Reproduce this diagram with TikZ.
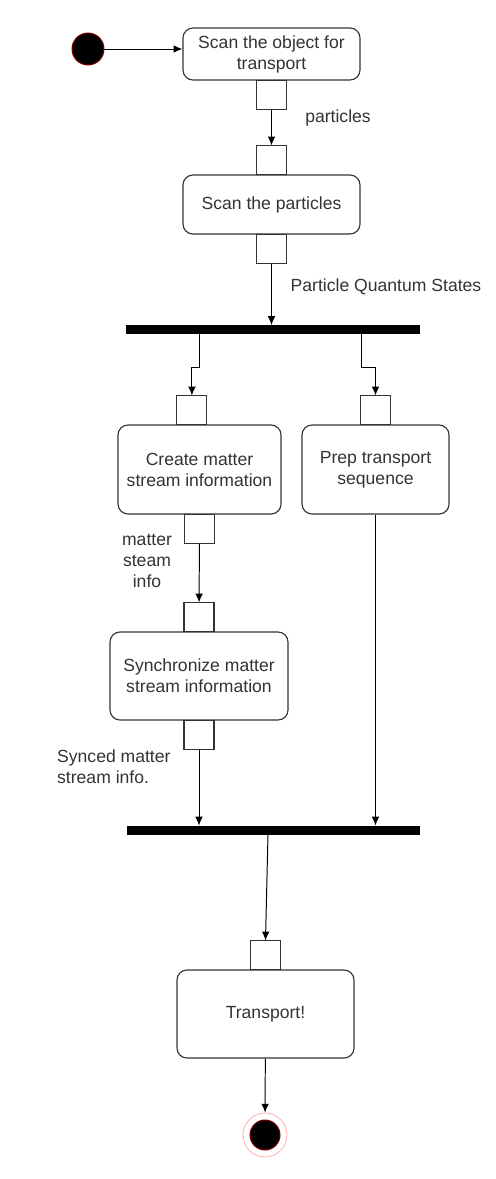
\documentclass[tikz,border=0pt]{standalone}
\usepackage{fontspec}
\setmainfont{Liberation Sans}
\usetikzlibrary{positioning}
\usetikzlibrary{arrows.meta}
\tikzset{>={Latex[width=1.9mm,length=2.2mm]}}
\tikzset{action/.style={draw=black!80, line width=0.8pt, rounded corners=2.5mm, align=center, fill=white, text=black!80, inner sep=2pt}}
\tikzset{pinbox/.style={draw=black!80, line width=0.8pt, minimum width=0.75cm, minimum height=0.725cm, inner sep=0pt, outer sep=0pt}}
\tikzset{bar/.style={fill=black, minimum height=0.225cm, inner sep=0pt, outer sep=0pt}}
\tikzset{lbl/.style={text=black!80, align=center}}

\begin{document}
\begin{tikzpicture}[x=0.025cm, y=-0.025cm, font=\fontsize{12.5}{15}\selectfont, line width=0.7pt]
\useasboundingbox (0,0) rectangle (495,1179);
\node (start) [circle, fill=black, draw=red!50!black, minimum size=0.8cm, inner sep=0pt] at (88,49) {};
\node (act1) [action, minimum width=4.425cm, minimum height=1.3cm] at (271.5,54) {Scan the object for\\transport};
\node (pin1b) [pinbox, below=0pt of act1] {};
\node (act2) [action, minimum width=4.425cm, minimum height=1.475cm] at (271.5,204.5) {Scan the particles};
\node (pin2a) [pinbox, above=0pt of act2] {};
\node (pin2b) [pinbox, below=0pt of act2] {};
\node (bar1) [bar, minimum width=7.35cm] at (273,329.5) {};
\node (act3) [action, minimum width=4.075cm, minimum height=2.225cm] at (199.5,469.5) {Create matter\\stream information};
\node (pin3a) [pinbox, above=0pt of act3, xshift=-0.19cm] {};
\node (pin3b) [pinbox, below=0pt of act3] {};
\node (act5) [action, minimum width=3.675cm, minimum height=2.225cm] at (375.5,469.5) {Prep transport\\sequence};
\node (pin5a) [pinbox, above=0pt of act5] {};
\node (act4) [action, minimum width=4.45cm, minimum height=2.2cm] at (199,676) {Synchronize matter\\stream information};
\node (pin4a) [pinbox, above=0pt of act4] {};
\node (pin4b) [pinbox, below=0pt of act4] {};
\node (bar2) [bar, minimum width=7.325cm] at (273.5,830) {};
\node (act6) [action, minimum width=4.425cm, minimum height=2.2cm] at (265.5,1014) {Transport!};
\node (pin6a) [pinbox, above=0pt of act6] {};
\node (end) [circle, draw=red!30, line width=0.6pt, minimum size=1.1cm, inner sep=0pt] at (265,1135) {};
\node (endin) [circle, fill=black, draw=red!50!black, minimum size=0.75cm, inner sep=0pt] at (end) {};

\node (l1) [lbl] at (338,118) {particles};
\node (l2) [lbl] at (386,287) {Particle Quantum States};
\node (l3) [lbl] at (147,561) {matter\\steam\\info};
\node (l4) [lbl, align=left, anchor=west] at (52,767) {Synced matter\\stream info.};

\coordinate (f2) at (361,334);
\coordinate (j1) at (268,834);

\path [draw, ->] (start) -- (act1.west |- start);
\path [draw, ->] (pin1b) -- (pin2a);
\path [draw, ->] (pin2b) -- (pin2b |- bar1.north);
\path [draw, ->] (bar1.south -| pin3b) -- ++(0,33) -| (pin3a.north);
\path [draw, ->] (f2) -- ++(0,33) -| (pin5a.north);
\path [draw, ->] (pin3b) -- (pin4a);
\path [draw, ->] (pin4b) -- (pin4b |- bar2.north);
\path [draw, ->] (act5) -- (act5 |- bar2.north);
\path [draw, ->] (j1) -- (pin6a.north);
\path [draw, ->] (act6) -- (end);
\end{tikzpicture}
\end{document}
